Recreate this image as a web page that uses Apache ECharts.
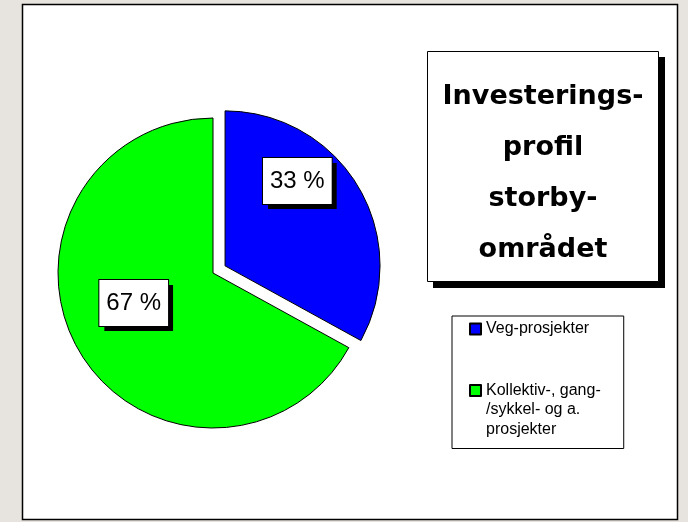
<!DOCTYPE html>
<html>
<head>
<meta charset="utf-8">
<script src="https://cdn.jsdelivr.net/npm/echarts@6/dist/echarts.min.js"></script>
<style>
  html, body { margin: 0; padding: 0; background: #e7e3de; }
  #chart { width: 688px; height: 522px; }
</style>
</head>
<body>
<div id="chart"></div>
<script>
// categories and shares (percent)
const categories = ['Veg-prosjekter', 'Kollektiv-, gang-\n/sykkel- og a.\nprosjekter'];
const shares = [33, 67];
const sliceColors = ['#0000ff', '#00ff00'];
const titleLines = ['Investerings-', 'profil', 'storby-', 'området'];

// nudge of the value boxes from the default inside spot
const labelShift = [[3, -44], [-10, -11]];

const chart = echarts.init(document.getElementById('chart'), null, { renderer: 'canvas' });

const option = {
  animation: false,
  backgroundColor: '#e7e3de',
  graphic: [
    {
      type: 'rect',
      z: -10,
      shape: { x: 22.5, y: 4.5, width: 655, height: 515 },
      style: { fill: '#ffffff', stroke: '#000000', lineWidth: 1.5 }
    },
    // title box: hard shadow, then the white box over it
    {
      type: 'rect',
      z: 4,
      shape: { x: 433, y: 57, width: 232, height: 231 },
      style: { fill: '#000000' }
    },
    {
      type: 'rect',
      z: 5,
      shape: { x: 427.5, y: 51.5, width: 231, height: 230 },
      style: { fill: '#ffffff', stroke: '#000000', lineWidth: 1 }
    },
    {
      type: 'text',
      z: 6,
      x: 543,
      y: 173.5,
      style: {
        text: titleLines.join('\n'),
        fontFamily: 'DejaVu Sans',
        fontWeight: 'bold',
        fontSize: 27,
        lineHeight: 51,
        fill: '#000000',
        align: 'center',
        verticalAlign: 'middle'
      }
    }
  ],
  legend: {
    orient: 'vertical',
    left: 452,
    top: 316,
    padding: [5, 23, 11, 17],
    itemGap: 45.5,
    itemWidth: 11,
    itemHeight: 11,
    icon: 'rect',
    borderColor: '#000000',
    borderWidth: 1,
    backgroundColor: '#ffffff',
    selectedMode: false,
    formatter: (name) => name.split('\n').map((l) => '{t|' + l + '}').join('\n'),
    textStyle: {
      color: '#000000',
      rich: {
        t: {
          fontFamily: 'Liberation Sans, Arial, sans-serif',
          fontSize: 16,
          lineHeight: 19.5,
          color: '#000000'
        }
      }
    },
    data: [
      { name: categories[0] },
      { name: categories[1], textStyle: { padding: [39, 0, 0, 0] } }
    ]
  },
  series: [
    {
      type: 'pie',
      center: [213, 273],
      radius: 155,
      startAngle: 90,
      clockwise: true,
      selectedMode: 'single',
      selectedOffset: 14,
      avoidLabelOverlap: false,
      itemStyle: { borderColor: '#000000', borderWidth: 1 },
      emphasis: { disabled: true },
      label: {
        show: true,
        position: 'inside',
        formatter: (p) => '{v|' + p.value + ' %}',
        // outer box carries only the hard shadow
        backgroundColor: '#ffffff',
        padding: 0,
        shadowColor: '#000000',
        shadowBlur: 0,
        shadowOffsetX: 5,
        shadowOffsetY: 5,
        rich: {
          v: {
            fontFamily: 'Liberation Sans, Arial, sans-serif',
            fontSize: 24,
            height: 46,
            lineHeight: 46,
            color: '#000000',
            backgroundColor: '#ffffff',
            borderColor: '#000000',
            borderWidth: 1,
            padding: [0, 7, 0, 7]
          }
        }
      },
      labelLine: { show: false },
      labelLayout: (params) => {
        const s = labelShift[params.dataIndex];
        return { dx: s[0], dy: s[1] };
      },
      data: categories.map((name, i) => ({
        name: name,
        value: shares[i],
        selected: i === 0,
        itemStyle: { color: sliceColors[i] },
        select: { itemStyle: { color: sliceColors[i], borderColor: '#000000', borderWidth: 1 } }
      }))
    }
  ]
};

chart.setOption(option);
</script>
</body>
</html>
